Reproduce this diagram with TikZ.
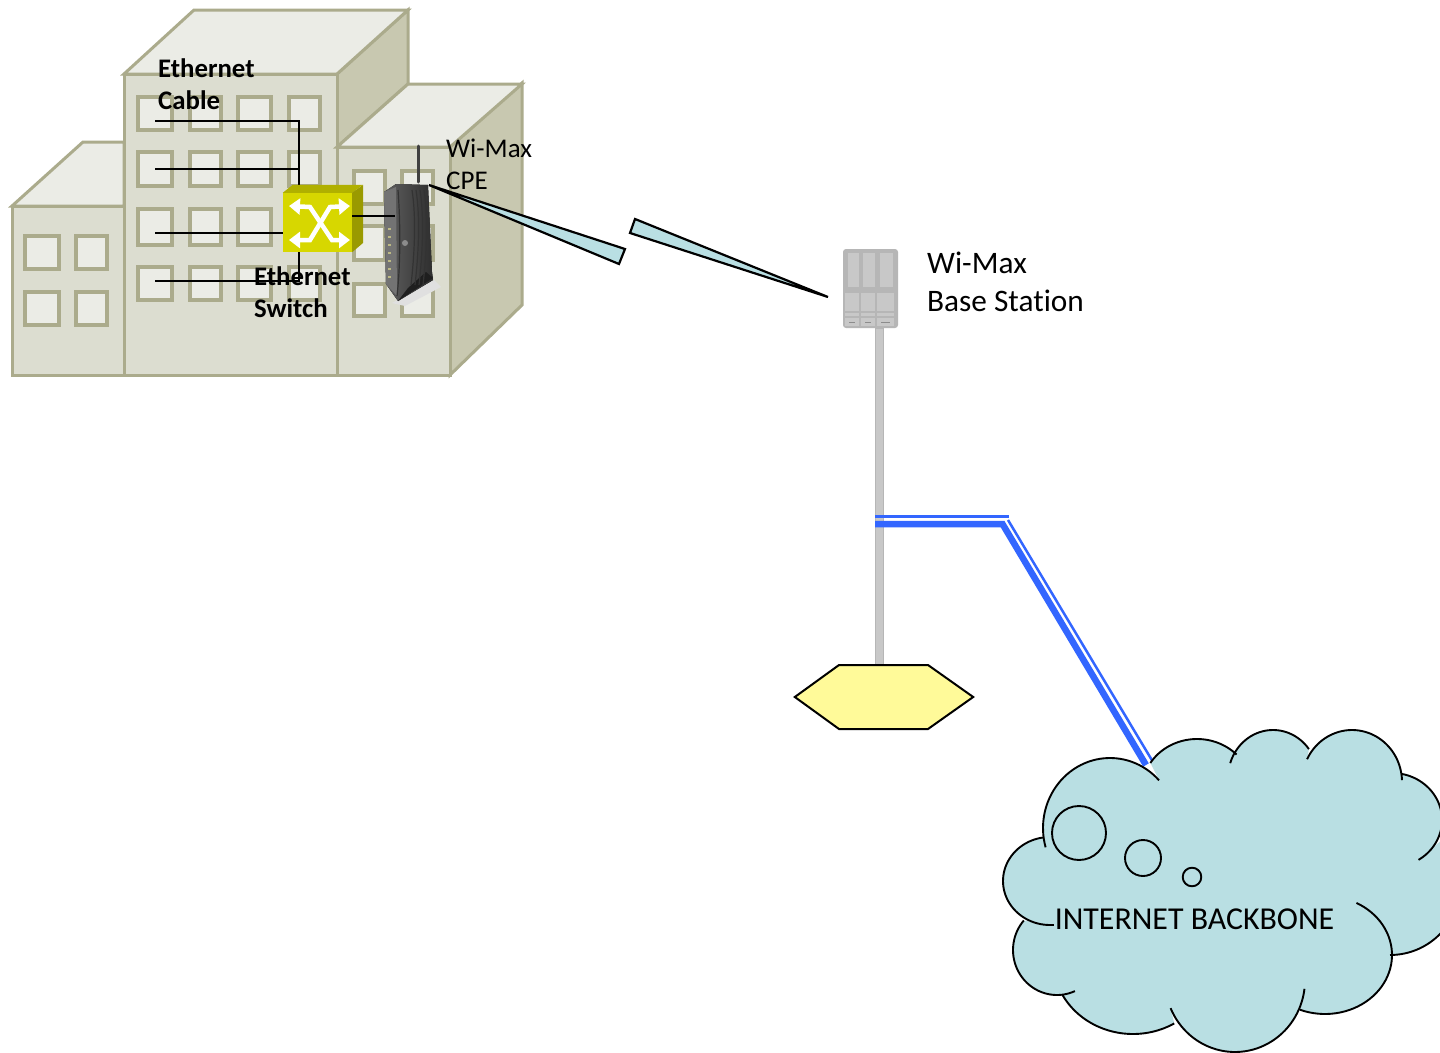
\documentclass[tikz,border=0pt]{standalone}
\usepackage{fontspec}
\setmainfont[Ligatures=NoCommon]{Carlito}
\usetikzlibrary{arrows.meta,calc}
\definecolor{bline}{HTML}{ABAB8C}
\definecolor{bfront}{HTML}{DCDDD0}
\definecolor{btop}{HTML}{EBECE6}
\definecolor{bside}{HTML}{C8C8B0}
\definecolor{cloudc}{HTML}{B9DFE3}
\definecolor{blueline}{HTML}{3366FF}
\definecolor{swfront}{HTML}{D7D700}
\definecolor{swtop}{HTML}{B0B000}
\definecolor{swside}{HTML}{9A9A00}
\definecolor{polec}{HTML}{C8C8C8}
\definecolor{polee}{HTML}{B6B6B6}
\tikzset{
  wall/.style={draw=bline,line width=3pt,line join=miter},
  front/.style={wall,fill=bfront},
  roof/.style={wall,fill=btop},
  flank/.style={wall,fill=bside},
  windowbox/.style={draw=bline,line width=4pt,fill=btop},
  cable/.style={draw=black,line width=2pt},
  beam/.style={draw=black,line width=2.2pt,fill=cloudc,line join=miter},
  lobe/.style={draw=black,line width=1.9pt,line join=round},
  label/.style={anchor=north west,inner sep=0pt,align=left,text=black},
  swarrow/.style={draw=white,line width=4.5pt,{Triangle[length=11pt,width=16pt]}-{Triangle[length=11pt,width=16pt]}},
  ridge/.style={draw=black!80,line width=1.2pt},
  smp/.style={samples=45},
}
\newcommand{\lb}[6]{\draw[lobe] plot[smp,domain=#5:#6] ({#1+#3*cos(\x)},{#2+#4*sin(\x)});}
\begin{document}
\begin{tikzpicture}[x=1pt,y=-1pt]
\clip (0,0) rectangle (1440,1052);
\fill[white] (0,0) rectangle (1440,1052);
% left building
\draw[roof] (12,206) -- (83,142) -- (124,142) -- (124,206) -- cycle;
\draw[front] (12,206) rectangle (124,375);
% middle building
\draw[flank] (337,74) -- (408,10) -- (408,84) -- (337,147) -- cycle;
\draw[roof] (124,74) -- (194,10) -- (408,10) -- (337,74) -- cycle;
\draw[front] (124,74) rectangle (337,375);
% right building
\draw[flank] (450,147) -- (522,83) -- (522,305) -- (450,375) -- cycle;
\draw[roof] (337,147) -- (408,84) -- (522,84) -- (450,147) -- cycle;
\draw[front] (337,147) rectangle (450,375);
% windows
\foreach \xa/\xb in {25/59,76/107}
  \foreach \ya/\yb in {236/269,292/325}
    \draw[windowbox] (\xa,\ya) rectangle (\xb,\yb);
\foreach \xa/\xb in {138/172,190/221,238/271,289/320}
  \foreach \ya/\yb in {97/130,152/186,209/245,267/300}
    \draw[windowbox] (\xa,\ya) rectangle (\xb,\yb);
\foreach \xa/\xb in {354/385,402/433}
  \foreach \ya/\yb in {171/204,226/260,284/316}
    \draw[windowbox] (\xa,\ya) rectangle (\xb,\yb);
% switch
\node[minimum width=69pt,minimum height=59pt,inner sep=0pt,fill=swfront] (sw) at (317.5,222.5) {};
\coordinate (busN) at (299,193);
\coordinate (c1) at (155,121);
\coordinate (c2) at (155,169);
\coordinate (c3) at (155,233);
\coordinate (c4) at (155,281);
\draw[cable] (c1) -- (c1 -| busN) -- (busN);
\draw[cable] (c2) -- (c2 -| busN);
\draw[cable] (c3) -- (c3 -| sw.west);
\draw[cable] (c4) -- (c4 -| busN) -- (busN |- sw.south);
\fill[swtop] (sw.north west) -- ++(10,-8) -- ++(70,0) -- (sw.north east) -- cycle;
\fill[swside] (sw.north east) -- ++(11,-8) -- ++(0,58) -- (sw.south east) -- cycle;
\draw[swarrow] (289,206) -- (310,207) -- (332,240) -- (350,240);
\draw[swarrow] (350,206) -- (330,207) -- (310,240) -- (289,240);
% CPE
\fill[white!88!black] (415,290) -- (434,280) -- (441,287) -- (405,306) -- (392,303) -- cycle;
\draw[line width=3pt,draw=black!75,line cap=round] (418,146) -- (418,182);
\node[minimum width=49pt,minimum height=120pt,inner sep=0pt] (cpe) at (408,243) {};
\fill[left color=black!62,right color=black!82] (384,192) -- (396,184) -- (428,185) -- (432,272) -- (433,280) -- (398,301) -- (386,284) -- cycle;
\fill[black!55] (384,192) -- (396,187) -- (397,296) -- (386,284) -- cycle;
\fill[black!88] (433,278) -- (426,272) -- (408,288) -- (398,301) -- cycle;
\foreach \xx in {412,416,420,424}
  \draw[ridge] (\xx,190) .. controls (\xx+4,215) and (\xx+3,250) .. (\xx-1,285);
\draw[ridge] (398,190) .. controls (401,230) and (400,270) .. (397,296);
\foreach \yy in {228,236,244,252,260,268,276}
  \fill[yellow!50!black!60] (388,\yy) rectangle (391,\yy+2);
\fill[black!45] (405,243) circle (3pt);
\draw[cable] (sw.east |- 0,216) -- (395,216);
% beams
\coordinate (tipa) at (429,185);
\coordinate (tipb) at (828,297);
\draw[beam] (tipa) -- (625,249) -- (619,264) -- cycle;
\draw[beam] (tipb) -- (635,219) -- (630,233) -- cycle;
% pole and base station
\node[minimum width=55pt,minimum height=79pt,inner sep=0pt,rounded corners=3pt,fill=polee] (bs) at (870.5,288.5) {};
\foreach \xa/\xb in {848/859,863/875,880/893}
  \fill[polec] (\xa,253) rectangle (\xb,287);
\foreach \xa/\xb in {845/859,861/875,877/894}
  {\fill[polec] (\xa,293) rectangle (\xb,311);
   \fill[polec] (\xa,312.5) rectangle (\xb,316);
   \fill[polec] (\xa,318) rectangle (\xb,326);
   \fill[black!45] (\xa+4,321.5) rectangle (\xb-4,322.5);}
\node[minimum width=178pt,minimum height=64pt,inner sep=0pt] (hex) at (884,697) {};
\draw[draw=polee,fill=polec,line width=1.5pt] (875.5,328) rectangle (883.5,665);
\draw[draw=black,line width=2pt,fill=yellow!40!white] (hex.west) -- (839,665) -- (928,665) -- (hex.east) -- (928,729) -- (839,729) -- cycle;
% blue links
\coordinate (lkA) at (875,524);
\coordinate (lkB) at (1002.5,524);
\coordinate (lkC) at (1146,765);
\coordinate (lkD) at (875,516.5);
\coordinate (lkE) at (1008.5,516.5);
\coordinate (lkG) at (1008,520);
\coordinate (lkF) at (1153,762);
\draw[blueline,line width=6.5pt,line join=miter] (lkA) -- (lkB) -- (lkC);
\draw[blueline,line width=2.5pt] (lkD) -- (lkE);
\draw[blueline,line width=2.5pt] (lkG) -- (lkF);
% cloud
\fill[cloudc] plot[smp,domain=164:317] ({1110+67*cos(\x)},{828+70*sin(\x)})
 -- plot[smp,domain=212:316] ({1197+55*cos(\x)},{790+51*sin(\x)})
 -- plot[smp,domain=198:323] ({1273+45*cos(\x)},{778+48*sin(\x)})
 -- plot[smp,domain=206:358] ({1352+50*cos(\x)},{782+52*sin(\x)})
 -- plot[smp,domain=281:418] ({1392+50*cos(\x)},{820+47*sin(\x)})
 -- plot[smp,domain=-41:90] ({1390+70*cos(\x)},{885+70*sin(\x)})
 -- plot[smp,domain=-62:112] ({1325+67*cos(\x)},{955+59*sin(\x)})
 -- plot[smp,domain=7:157] ({1235+70*cos(\x)},{980+72*sin(\x)})
 -- plot[smp,domain=59:152] ({1133+80*cos(\x)},{960+74*sin(\x)})
 -- plot[smp,domain=66:221] ({1057+44*cos(\x)},{950+45*sin(\x)})
 -- plot[smp,domain=90:262] ({1050+47*cos(\x)},{881+44*sin(\x)})
 -- cycle;
\lb{1110}{828}{67}{70}{164}{317}
\lb{1197}{790}{55}{51}{212}{316}
\lb{1273}{778}{45}{48}{198}{323}
\lb{1352}{782}{50}{52}{206}{358}
\lb{1392}{820}{50}{47}{281}{418}
\lb{1390}{885}{70}{70}{-41}{90}
\lb{1325}{955}{67}{59}{-62}{112}
\lb{1235}{980}{70}{72}{7}{157}
\lb{1133}{960}{80}{74}{59}{152}
\lb{1057}{950}{44}{45}{66}{221}
\lb{1050}{881}{47}{44}{90}{262}
\draw[lobe] (1049,925) -- (1054,925);
\draw[lobe] (1079,833) circle (27pt);
\draw[lobe] (1143,858) circle (18pt);
\draw[lobe] (1192,877) circle (9.3pt);
\node[inner sep=0pt,font=\fontsize{31.9}{36}\selectfont] (inet) at (1194.5,919) {INTERNET BACKBONE};
% labels
\node[label,font=\fontsize{26.8}{32}\selectfont\bfseries] (lcable) at (158,58) {Ethernet\\Cable};
\node[label,font=\fontsize{26.8}{32}\selectfont\bfseries] (lswitch) at (254,266) {Ethernet\\Switch};
\node[label,font=\fontsize{27}{32}\selectfont] (lcpe) at (446,138.5) {Wi-Max\\CPE};
\node[label,font=\fontsize{31.3}{38}\selectfont] (lbs) at (927,252) {Wi-Max\\Base Station};
\end{tikzpicture}
\end{document}
